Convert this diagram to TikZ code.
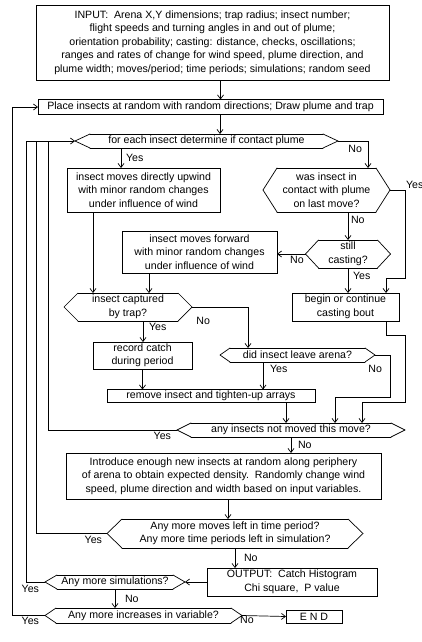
\documentclass[tikz,border=0pt]{standalone}
\usepackage{fontspec}
\setmainfont{Liberation Sans}
\usetikzlibrary{arrows.meta,positioning}

\tikzset{
  box/.style={draw, shape=rectangle, align=center, inner sep=1pt},
  hexa/.style={shape=rectangle, align=center, inner sep=1pt,
    append after command={
      (\tikzlastnode.west) edge[line cap=round] ([xshift=#1]\tikzlastnode.north west)
      ([xshift=#1]\tikzlastnode.north west) edge[line cap=round] ([xshift=-#1]\tikzlastnode.north east)
      ([xshift=-#1]\tikzlastnode.north east) edge[line cap=round] (\tikzlastnode.east)
      (\tikzlastnode.east) edge[line cap=round] ([xshift=-#1]\tikzlastnode.south east)
      ([xshift=-#1]\tikzlastnode.south east) edge[line cap=round] ([xshift=#1]\tikzlastnode.south west)
      ([xshift=#1]\tikzlastnode.south west) edge[line cap=round] (\tikzlastnode.west)}},
  lbl/.style={inner sep=1pt}
}

\begin{document}
\begin{tikzpicture}[x=1pt, y=-1pt, >={Straight Barb[length=4pt,width=6pt]}, line width=0.7pt,
    font=\fontsize{10.6}{13.5}\selectfont, every node/.append style={outer sep=0pt}]
  \useasboundingbox (0,0) rectangle (422,642);

  % boxes
  \node (input) [box, minimum width=353pt, minimum height=75pt] at (212.5,42.5)
    {INPUT:\ \ Arena X,Y dimensions; trap radius; insect number;\\
     flight speeds and turning angles in and out of plume;\\
     orientation probability; casting: distance, checks, oscillations;\\
     ranges and rates of change for wind speed, plume direction, and\\
     plume width; moves/period; time periods; simulations; random seed};
  \node (place) [box, minimum width=345pt, minimum height=15pt] at (210.5,107)
    {Place insects at random with random directions; Draw plume and trap};
  \node (foreach) [hexa=15pt, minimum width=263pt, minimum height=14pt] at (206.5,141)
    {for each insect determine if contact plume};
  \node (upwind) [box, minimum width=153pt, minimum height=44pt] at (143.5,190)
    {insect moves directly upwind\\with minor random changes\\under influence of wind};
  \node (wasin) [hexa=14pt, minimum width=127pt, minimum height=44pt] at (326.5,190)
    {was insect in\\contact with plume\\on last move?};
  \node (forward) [box, minimum width=155pt, minimum height=42pt] at (199.5,252)
    {insect moves forward\\with minor random changes\\under influence of wind};
  \node (still) [hexa=13pt, minimum width=85pt, minimum height=28pt] at (348,254)
    {still\\casting?};
  \node (captured) [hexa=14pt, minimum width=128pt, minimum height=28pt] at (128,307)
    {insect captured\\by trap?};
  \node (bout) [box, minimum width=107pt, minimum height=28pt] at (345.5,307)
    {begin or continue\\casting bout};
  \node (record) [box, minimum width=99pt, minimum height=27pt] at (142.5,355.5)
    {record catch\\during period};
  \node (leave) [hexa=10pt, minimum width=155pt, minimum height=14pt] at (297.5,355)
    {did insect leave arena?};
  \node (remove) [box, minimum width=208pt, minimum height=13pt] at (211,396)
    {remove insect and tighten-up arrays};
  \node (notmoved) [hexa=14pt, minimum width=228pt, minimum height=14pt] at (291,430)
    {any insects not moved this move?};
  \node (introduce) [box, minimum width=315pt, minimum height=46pt] at (223.5,476)
    {Introduce enough new insects at random along periphery\\
     of arena to obtain expected density.\ \ Randomly change wind\\
     speed, plume direction and width based on input variables.};
  \node (moreleft) [hexa=15pt, minimum width=256pt, minimum height=29pt] at (235,533.5)
    {Any more moves left in time period?\\Any more time periods left in simulation?};
  \node (output) [box, minimum width=170pt, minimum height=28pt] at (292,582)
    {OUTPUT:\ \ Catch Histogram\\Chi square,\ \ P value};
  \node (sims) [hexa=12pt, minimum width=140pt, minimum height=14pt] at (115,582)
    {Any more simulations?};
  \node (incr) [hexa=11pt, minimum width=197pt, minimum height=15pt] at (143.5,615.5)
    {Any more increases in variable?};
  \node (finish) [box, minimum width=56pt, minimum height=13pt] at (314,616.5) {E N D};

  \coordinate (bus) at (26,141);

  % main flow
  \draw[->] ([xshift=8pt]input.south) -- ([xshift=8pt]input.south |- place.north);
  \draw[->] ([xshift=9.5pt]place.south) -- ([xshift=9.5pt]place.south |- foreach.north);
  \draw[->] ([xshift=-22.5pt]upwind.north |- foreach.south) -- node[lbl, right=4pt] (y1) {Yes} ([xshift=-22.5pt]upwind.north);
  \draw[->] (foreach.east) -| node[lbl, pos=0.5, below left=3pt and 5pt] (n1) {No} ([xshift=41.5pt]wasin.north);
  \draw[->] (wasin.east) -- ++(15,0) node[lbl, above right=0pt and 0pt] (y2) {Yes} -- ++(0,88) -| ([xshift=40.5pt]bout.north);
  \draw[->] (still.north |- wasin.south) -- node[lbl, pos=0.3, right=2pt] (n2) {No} (still.north);
  \draw[->] (still.west) -- node[lbl, pos=0.3, below=1pt] (n3) {No} (still.west -| forward.east);
  \draw[->] (still.south) -- node[lbl, pos=0.3, right=4pt] (y3) {Yes} (still.south |- bout.north);
  \draw[->] ([xshift=-50.5pt]upwind.south) -- ([xshift=-50.5pt]upwind.south |- captured.north);
  \draw[->] ([xshift=-50.5pt]forward.south) -- ([xshift=-50.5pt]forward.south |- captured.north);
  \draw[->] (captured.east) -| node[lbl, pos=0.1, below=9pt] (n4) {No} ([xshift=-49.5pt]leave.north);
  \draw[->] ([xshift=15pt]captured.south) -- node[lbl, pos=0.3, right=5pt] (y4) {Yes} ([xshift=15pt]captured.south |- record.north);
  \draw[->] (record.south) -- (record.south |- remove.north);
  \draw[->] ([xshift=-34.5pt]leave.south) -- node[lbl, pos=0.25, right=6pt] (y5) {Yes} ([xshift=-34.5pt]leave.south |- remove.north);
  \draw[->] (leave.east) -- ++(15,0) -- node[lbl, pos=0.33, left=7pt] (n5) {No} ++(0,42) -| ([xshift=44pt]notmoved.north);
  \draw[->] ([xshift=40.5pt]bout.south) -- ++(0,14) -- ++(19,0) -- ++(0,67) -| ([xshift=71pt]notmoved.north);
  \draw[->] ([xshift=75pt]remove.south) -- ([xshift=75pt]remove.south |- notmoved.north);
  \draw[->] (notmoved.south) -- node[lbl, right=6pt] (n6) {No} (notmoved.south |- introduce.north);
  \draw[->] ([xshift=4.5pt]introduce.south) -- ([xshift=4.5pt]introduce.south |- moreleft.north);
  \draw[->] (moreleft.south) -- node[lbl, right=8pt] (n7) {No} (moreleft.south |- output.north);
  \draw[->] (output.west) -- (sims.east);
  \draw[->] (sims.south) -- node[lbl, right=9pt] (n8) {No} (sims.south |- incr.north);
  \draw[->] (incr.east) node[lbl, below, xshift=5pt] (n9) {No} -- (finish.west);

  % loops back
  \draw[->] (bus) -- (foreach.west);
  \draw (notmoved.west) node[lbl, below left=1pt and 5pt] (y6) {Yes} -| ([xshift=22pt]bus);
  \draw (moreleft.west) node[lbl, below left=2pt and 4pt] (y7) {Yes} -| ([xshift=10pt]bus);
  \draw (sims.west) node[lbl, below left=2pt and 5pt] (y8) {Yes} -| (bus);
  \draw[->] (incr.west) node[lbl, below left=1pt and 5pt] (y9) {Yes} -- ++(-33,0) |- (place.west);
\end{tikzpicture}
\end{document}
